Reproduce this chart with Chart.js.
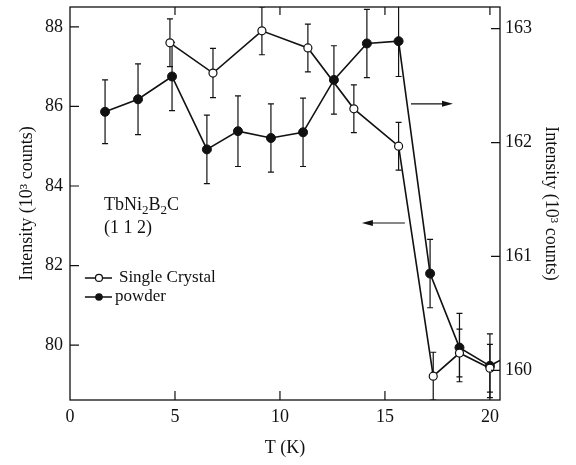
<!DOCTYPE html>
<html>
<head>
<meta charset="utf-8">
<script src="https://cdn.jsdelivr.net/npm/chart.js@4.4.1/dist/chart.umd.min.js"></script>
<style>
  html, body { margin: 0; padding: 0; background: #fff; }
  canvas { display: block; }
</style>
</head>
<body>
<canvas id="myChart" width="576" height="465"></canvas>
<script>
// single crystal, left axis (10^3 counts)
const scTemp = [4.76, 6.81, 9.14, 11.33, 13.52, 15.65, 17.3, 18.55, 20.0];
const scIntensity = [87.6, 86.84, 87.9, 87.47, 85.94, 85.0, 79.22, 79.8, 79.42];
const scError = [0.6, 0.62, 0.6, 0.6, 0.6, 0.6, 0.6, 0.6, 0.6];

// powder, right axis (10^3 counts); last point lies just past the axis end
const powderTemp = [1.67, 3.24, 4.86, 6.52, 8.0, 9.57, 11.1, 12.57, 14.14, 15.65, 17.15, 18.55, 20.0, 21.0];
const powderIntensity = [162.27, 162.38, 162.58, 161.94, 162.10, 162.04, 162.09, 162.55, 162.87, 162.89, 160.85, 160.20, 160.04, 160.14];
const powderError = [0.28, 0.31, 0.3, 0.3, 0.31, 0.3, 0.3, 0.3, 0.3, 0.31, 0.3, 0.3, 0.28, 0.3];

const xTicks = [0, 5, 10, 15, 20];
const leftTicks = [80, 82, 84, 86, 88];
const rightTicks = [160, 161, 162, 163];

const INK = '#111';
const SERIF = "'Liberation Serif', 'DejaVu Serif', serif";

const toPoints = (xs, ys) => xs.map((x, i) => ({ x: x, y: ys[i] }));

// error bars, frame with inward ticks, labels and arrows
const decor = {
  id: 'decor',
  beforeDatasetsDraw(chart) {
    const ctx = chart.ctx;
    const a = chart.chartArea;
    const sx = chart.scales.x;
    ctx.save();
    ctx.beginPath();
    ctx.rect(a.left, a.top, a.right - a.left, a.bottom - a.top);
    ctx.clip();
    ctx.strokeStyle = INK;
    ctx.lineWidth = 1.2;
    const bars = (xs, ys, es, scale) => {
      xs.forEach((t, i) => {
        const px = sx.getPixelForValue(t);
        const y1 = scale.getPixelForValue(ys[i] + es[i]);
        const y2 = scale.getPixelForValue(ys[i] - es[i]);
        ctx.beginPath();
        ctx.moveTo(px, y1); ctx.lineTo(px, y2);
        ctx.moveTo(px - 3, y1); ctx.lineTo(px + 3, y1);
        ctx.moveTo(px - 3, y2); ctx.lineTo(px + 3, y2);
        ctx.stroke();
      });
    };
    bars(scTemp, scIntensity, scError, chart.scales.y);
    bars(powderTemp, powderIntensity, powderError, chart.scales.y2);
    ctx.restore();
  },
  afterDraw(chart) {
    const ctx = chart.ctx;
    const a = chart.chartArea;
    const sx = chart.scales.x, sy = chart.scales.y, sy2 = chart.scales.y2;
    ctx.save();
    ctx.strokeStyle = INK;
    ctx.fillStyle = INK;

    // frame
    ctx.lineWidth = 1.3;
    ctx.strokeRect(a.left, a.top, a.right - a.left, a.bottom - a.top);
    ctx.lineWidth = 1.2;
    ctx.beginPath();
    xTicks.forEach(v => {
      const px = sx.getPixelForValue(v);
      if (v === 0) return;
      ctx.moveTo(px, a.bottom); ctx.lineTo(px, a.bottom - 9);
      ctx.moveTo(px, a.top); ctx.lineTo(px, a.top + 8);
    });
    leftTicks.forEach(v => {
      const py = sy.getPixelForValue(v);
      ctx.moveTo(a.left, py); ctx.lineTo(a.left + 9, py);
    });
    rightTicks.forEach(v => {
      const py = sy2.getPixelForValue(v);
      ctx.moveTo(a.right, py); ctx.lineTo(a.right - 9, py);
    });
    ctx.stroke();

    // sample label
    const lx = sx.getPixelForValue(1.62);
    let y = sy.getPixelForValue(83.4);
    ctx.textBaseline = 'alphabetic';
    ctx.textAlign = 'left';
    const parts = [['TbNi', 0], ['2', 1], ['B', 0], ['2', 1], ['C', 0]];
    let cx = lx;
    parts.forEach(p => {
      ctx.font = (p[1] ? '13px ' : '18px ') + SERIF;
      ctx.fillText(p[0], cx, y + (p[1] ? 4 : 0));
      cx += ctx.measureText(p[0]).width;
    });
    ctx.font = '18px ' + SERIF;
    ctx.fillText('(1 1 2)', lx, sy.getPixelForValue(82.82));

    // legend
    ctx.font = '17px ' + SERIF;
    const l0 = sx.getPixelForValue(0.71), l1 = sx.getPixelForValue(2.0), lc = sx.getPixelForValue(1.38);
    const r1 = sy.getPixelForValue(81.69), r2 = sy.getPixelForValue(81.21);
    ctx.lineWidth = 1.5;
    ctx.beginPath();
    ctx.moveTo(l0, r1); ctx.lineTo(l1, r1);
    ctx.moveTo(l0, r2); ctx.lineTo(l1, r2);
    ctx.stroke();
    ctx.beginPath();
    ctx.arc(lc, r1, 3.5, 0, Math.PI * 2);
    ctx.fillStyle = '#fff'; ctx.fill();
    ctx.lineWidth = 1.2; ctx.stroke();
    ctx.fillStyle = INK;
    ctx.beginPath();
    ctx.arc(lc, r2, 3.8, 0, Math.PI * 2);
    ctx.fill();
    ctx.textBaseline = 'middle';
    ctx.fillText('Single Crystal', sx.getPixelForValue(2.33), r1);
    ctx.fillText('powder', sx.getPixelForValue(2.14), r2);

    // arrows pointing to the axis each curve belongs to
    const arrow = (x0, x1, yy) => {
      const dir = Math.sign(x1 - x0);
      ctx.lineWidth = 1.2;
      ctx.beginPath();
      ctx.moveTo(x0, yy); ctx.lineTo(x1 - dir * 8, yy);
      ctx.stroke();
      ctx.beginPath();
      ctx.moveTo(x1, yy);
      ctx.lineTo(x1 - dir * 11, yy - 3);
      ctx.lineTo(x1 - dir * 11, yy + 3);
      ctx.closePath();
      ctx.fill();
    };
    arrow(sx.getPixelForValue(16.24), sx.getPixelForValue(18.24), sy2.getPixelForValue(162.34));
    arrow(sx.getPixelForValue(15.95), sx.getPixelForValue(13.9), sy.getPixelForValue(83.07));
    ctx.restore();
  }
};

const noPad = s => { s.paddingTop = 0; s.paddingBottom = 0; s.paddingLeft = 0; s.paddingRight = 0; };

const ctx1 = document.getElementById('myChart').getContext('2d');
new Chart(ctx1, {
  type: 'scatter',
  data: {
    datasets: [
      {
        label: 'Single Crystal',
        data: toPoints(scTemp, scIntensity),
        yAxisID: 'y',
        showLine: true,
        borderColor: INK,
        borderWidth: 1.6,
        pointStyle: 'circle',
        pointRadius: 4,
        pointBorderWidth: 1.2,
        pointBackgroundColor: '#fff',
        pointBorderColor: INK
      },
      {
        label: 'powder',
        data: toPoints(powderTemp, powderIntensity),
        yAxisID: 'y2',
        showLine: true,
        borderColor: INK,
        borderWidth: 1.6,
        pointStyle: 'circle',
        pointRadius: 4.5,
        pointBorderWidth: 1,
        pointBackgroundColor: INK,
        pointBorderColor: INK
      }
    ]
  },
  options: {
    responsive: false,
    animation: false,
    layout: { padding: { top: 7, left: 0, right: 0, bottom: 0 } },
    plugins: { legend: { display: false }, tooltip: { enabled: false } },
    scales: {
      x: {
        type: 'linear',
        position: 'bottom',
        min: 0,
        max: 20.48,
        afterBuildTicks: s => { s.ticks = xTicks.map(v => ({ value: v })); },
        afterFit: s => { s.height = 65; noPad(s); },
        grid: { display: false, drawTicks: false },
        border: { display: false },
        ticks: { color: INK, font: { family: SERIF, size: 18 }, padding: 6, maxRotation: 0 },
        title: { display: true, text: 'T (K)', color: INK, font: { family: SERIF, size: 18 }, padding: { top: 4, bottom: 6 } }
      },
      y: {
        type: 'linear',
        position: 'left',
        min: 78.62,
        max: 88.5,
        afterBuildTicks: s => { s.ticks = leftTicks.map(v => ({ value: v })); },
        afterFit: s => { s.width = 70; noPad(s); },
        grid: { display: false, drawTicks: false },
        border: { display: false },
        ticks: { color: INK, font: { family: SERIF, size: 18 }, padding: 7 },
        title: { display: true, text: 'Intensity (10³ counts)', color: INK, font: { family: SERIF, size: 18 }, padding: { top: 16, bottom: 4 } }
      },
      y2: {
        type: 'linear',
        position: 'right',
        min: 159.74,
        max: 163.19,
        afterBuildTicks: s => { s.ticks = rightTicks.map(v => ({ value: v })); },
        afterFit: s => { s.width = 76; noPad(s); },
        grid: { display: false, drawTicks: false },
        border: { display: false },
        ticks: { color: INK, font: { family: SERIF, size: 18 }, padding: 5 },
        title: { display: true, text: 'Intensity (10³ counts)', color: INK, font: { family: SERIF, size: 18 }, padding: { top: 14, bottom: 4 } }
      }
    }
  },
  plugins: [decor]
});
</script>
</body>
</html>
